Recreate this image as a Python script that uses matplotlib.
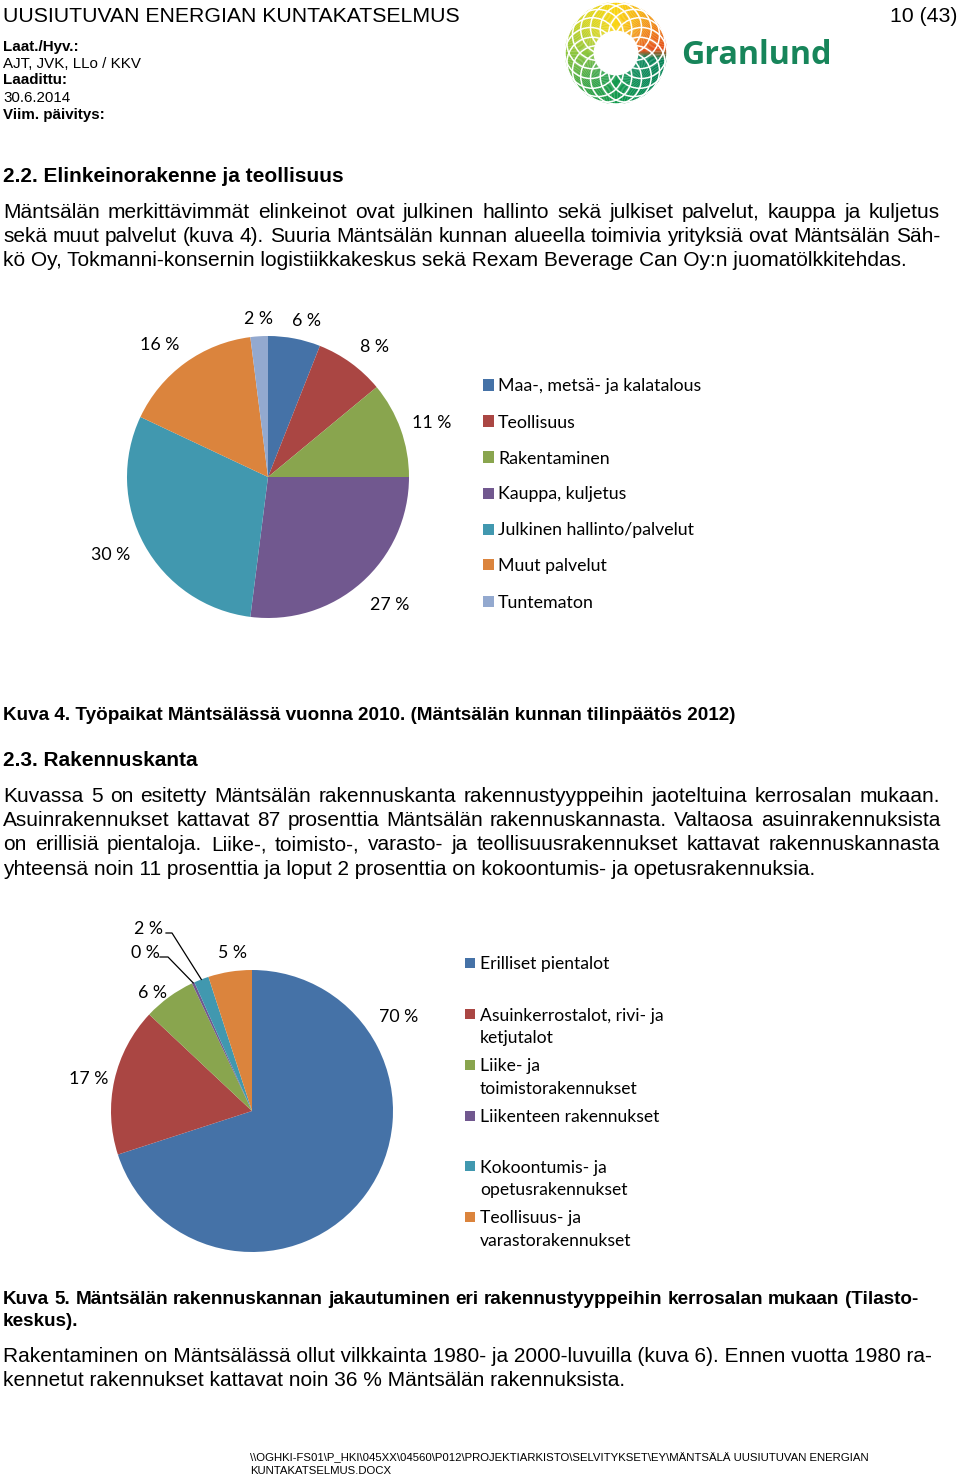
import matplotlib
matplotlib.use('Agg')
import matplotlib.pyplot as plt
from matplotlib.patches import Rectangle, Wedge, Circle
from matplotlib.colors import to_rgb
import numpy as np

# ---------------- data ----------------
emp_labels = ['Maa-, metsä- ja kalatalous', 'Teollisuus', 'Rakentaminen',
              'Kauppa, kuljetus', 'Julkinen hallinto/palvelut', 'Muut palvelut', 'Tuntematon']
emp_values = [6, 8, 11, 27, 30, 16, 2]
emp_colors = ['#4572A7', '#AA4643', '#89A54E', '#71588F', '#4198AF', '#DB843D', '#93A9CF']

bld_labels = [['Erilliset pientalot'],
              ['Asuinkerrostalot, rivi- ja', 'ketjutalot'],
              ['Liike- ja', 'toimistorakennukset'],
              ['Liikenteen rakennukset'],
              ['Kokoontumis- ja', 'opetusrakennukset'],
              ['Teollisuus- ja', 'varastorakennukset']]
bld_values = [70, 17, 6, 0.3, 1.7, 5]
bld_pct_text = ['70 %', '17 %', '6 %', '0 %', '2 %', '5 %']
bld_colors = ['#4572A7', '#AA4643', '#89A54E', '#71588F', '#4198AF', '#DB843D']

para1 = ['Mäntsälän merkittävimmät elinkeinot ovat julkinen hallinto sekä julkiset palvelut, kauppa ja kuljetus',
         'sekä muut palvelut (kuva 4). Suuria Mäntsälän kunnan alueella toimivia yrityksiä ovat Mäntsälän Säh-',
         'kö Oy, Tokmanni-konsernin logistiikkakeskus sekä Rexam Beverage Can Oy:n juomatölkkitehdas.']
para2 = ['Kuvassa 5 on esitetty Mäntsälän rakennuskanta rakennustyyppeihin jaoteltuina kerrosalan mukaan.',
         'Asuinrakennukset kattavat 87 prosenttia Mäntsälän rakennuskannasta. Valtaosa asuinrakennuksista',
         'on erillisiä pientaloja. Liike-, toimisto-, varasto- ja teollisuusrakennukset kattavat rakennuskannasta',
         'yhteensä noin 11 prosenttia ja loput 2 prosenttia on kokoontumis- ja opetusrakennuksia.']
caption4 = 'Kuva 4. Työpaikat Mäntsälässä vuonna 2010. (Mäntsälän kunnan tilinpäätös 2012)'
caption5 = ['Kuva 5. Mäntsälän rakennuskannan jakautuminen eri rakennustyyppeihin kerrosalan mukaan (Tilasto-',
            'keskus).']
para3 = ['Rakentaminen on Mäntsälässä ollut vilkkainta 1980- ja 2000-luvuilla (kuva 6). Ennen vuotta 1980 ra-',
         'kennetut rakennukset kattavat noin 36 % Mäntsälän rakennuksista.']
footer = [r'\\OGHKI-FS01\P_HKI\045XX\04560\P012\PROJEKTIARKISTO\SELVITYKSET\EY\MÄNTSÄLÄ UUSIUTUVAN ENERGIAN',
          'KUNTAKATSELMUS.DOCX']

# ---------------- figure helpers ----------------
W, H = 960, 1477
fig = plt.figure(figsize=(9.6, 14.77), dpi=100)
fig.patch.set_facecolor('white')
renderer = fig.canvas.get_renderer()

BODY = 'Liberation Sans'
CHART = 'Lato'


def fx(x):
    return x / W


def fy(y):
    return 1 - y / H


def txt(x, y, s, size, weight='normal', ha='left', family=BODY, color='black'):
    return fig.text(fx(x), fy(y), s, fontsize=size, fontweight=weight, ha=ha,
                    va='center_baseline', family=family, color=color)


def width_px(s, size, weight='normal', family=BODY):
    t = fig.text(0, 0, s, fontsize=size, fontweight=weight, family=family)
    w = t.get_window_extent(renderer).width
    t.remove()
    return w


def fit_size(s, target, weight='normal', family=BODY):
    return 10 * target / width_px(s, 10, weight, family)


def justify(x0, x1, y, line, size, weight='normal'):
    words = line.split(' ')
    ws = [width_px(w, size, weight) for w in words]
    gap = (x1 - x0 - sum(ws)) / (len(words) - 1)
    x = x0
    for w, wd in zip(words, ws):
        txt(x, y, w, size, weight)
        x += wd + gap


# ---------------- header ----------------
title = 'UUSIUTUVAN ENERGIAN KUNTAKATSELMUS'
txt(3, 15, title, fit_size(title, 458))
txt(958, 15, '10 (43)', fit_size(title, 458), ha='right')
hs = fit_size('AJT, JVK, LLo / KKV', 138)
txt(3, 46, 'Laat./Hyv.:', hs, 'bold')
txt(3, 63, 'AJT, JVK, LLo / KKV', hs)
txt(3, 79, 'Laadittu:', hs, 'bold')
txt(3, 96, '30.6.2014', hs)
txt(3, 114, 'Viim. päivitys:', hs, 'bold')

# logo
lax = fig.add_axes([fx(616 - 51), fy(53 + 51), 102 / W, 102 / H])
lax.set_xlim(-1, 1)
lax.set_ylim(-1, 1)
lax.axis('off')
stops = [(-180, '#8DC63F'), (-135, '#3FA648'), (-90, '#139A4E'), (-45, '#0B8A58'),
         (-8, '#0A855A'), (5, '#E5501B'), (30, '#EE7E1A'), (60, '#F5B316'),
         (90, '#FBD512'), (135, '#D3D523'), (180, '#8DC63F')]
sa = np.array([s[0] for s in stops], float)
sc = np.array([to_rgb(s[1]) for s in stops])
for a in range(-180, 180, 2):
    m = a + 1
    col = [np.interp(m, sa, sc[:, k]) for k in range(3)]
    lax.add_patch(Wedge((0, 0), 1.0, a, a + 2.2, width=0.56, color=col, lw=0))
for k in range(16):
    ang = np.deg2rad(k * 22.5)
    lax.add_patch(Circle((0.5 * np.cos(ang), 0.5 * np.sin(ang)), 0.5, fill=False,
                         ec='white', lw=1.1))
gs = fit_size('Granlund', 151, 'bold', 'Open Sans')
txt(681, 52, 'Granlund', gs, 'bold', family='Open Sans', color='#17855A')

# ---------------- text blocks ----------------
body = fit_size(para1[2], 902)
hd = fit_size('2.2. Elinkeinorakenne ja teollisuus', 340, 'bold')
txt(3, 175, '2.2. Elinkeinorakenne ja teollisuus', hd, 'bold')
justify(3, 940, 211, para1[0], body)
justify(3, 940, 235, para1[1], body)
txt(3, 259, para1[2], body)

cs = fit_size(caption4, 733, 'bold')
txt(3, 713, caption4, cs, 'bold')
txt(3, 759, '2.3. Rakennuskanta', hd, 'bold')
for i, line in enumerate(para2[:3]):
    justify(3, 940, 795 + 24 * i, line, body)
txt(3, 867, para2[3], body)

justify(3, 918, 1297, caption5[0], cs, 'bold')
txt(3, 1319, caption5[1], cs, 'bold')
txt(3, 1354, para3[0], body)
txt(3, 1378, para3[1], body)

fs = fit_size(footer[0], 620)
txt(250, 1457, footer[0], fs)
txt(250, 1470, footer[1], fs)

# ---------------- chart 1 ----------------
R = 141
c1 = (268, 477)
ax1 = fig.add_axes([fx(c1[0] - R), fy(c1[1] + R), 2 * R / W, 2 * R / H])
ax1.pie(emp_values, colors=emp_colors, startangle=90, counterclock=False,
        wedgeprops=dict(linewidth=0))
ax1.set_xlim(-1, 1)
ax1.set_ylim(-1, 1)
ax1.set_aspect('auto')

lab1_pos = [(306, 320), (374, 345), (432, 422), (390, 604), (111, 554), (160, 343), (258, 318)]
chs = fit_size(emp_labels[0], 203, family=CHART)
for v, (x, y) in zip(emp_values, lab1_pos):
    txt(x, y, f'{v} %', chs, ha='center', family=CHART)
for i, (lab, col) in enumerate(zip(emp_labels, emp_colors)):
    y = 385 + 36 * i
    fig.patches.append(Rectangle((fx(483), fy(y + 5.5)), 11 / W, 11 / H,
                                 transform=fig.transFigure, color=col, lw=0))
    txt(498, y, lab, chs, family=CHART)

# ---------------- chart 2 ----------------
c2 = (252, 1111)
ax2 = fig.add_axes([fx(c2[0] - R), fy(c2[1] + R), 2 * R / W, 2 * R / H])
ax2.pie(bld_values, colors=bld_colors, startangle=90, counterclock=False,
        wedgeprops=dict(linewidth=0))
ax2.set_xlim(-1, 1)
ax2.set_ylim(-1, 1)
ax2.set_aspect('auto')

lab2_pos = [(399, 1016), (89, 1077), (153, 991), (145, 952), (149, 928), (232, 952)]
for t, (x, y) in zip(bld_pct_text, lab2_pos):
    txt(x, y, t, chs, ha='center', family=CHART)

# leader lines for the two thin slices
total = sum(bld_values)
cum = np.cumsum([0] + bld_values)
leader_start = {3: [(160, 957), (168, 957)], 4: [(166, 933), (172, 933)]}
for idx, pts in leader_start.items():
    mid = np.deg2rad(90 - 360 * (cum[idx] + bld_values[idx] / 2) / total)
    xs = [(p[0] - c2[0]) / R for p in pts] + [np.cos(mid)]
    ys = [(c2[1] - p[1]) / R for p in pts] + [np.sin(mid)]
    ax2.plot(xs, ys, color='black', lw=0.9, clip_on=False)

ls2 = fit_size('Liikenteen rakennukset', 179, family=CHART)
leg2_y = [963, 1014, 1065, 1116, 1166, 1217]
for lines, col, y in zip(bld_labels, bld_colors, leg2_y):
    fig.patches.append(Rectangle((fx(465), fy(y + 5)), 10 / W, 10 / H,
                                 transform=fig.transFigure, color=col, lw=0))
    for j, line in enumerate(lines):
        txt(480, y + 23 * j, line, ls2, family=CHART)

fig.savefig('out.png', dpi=100, facecolor='white')
